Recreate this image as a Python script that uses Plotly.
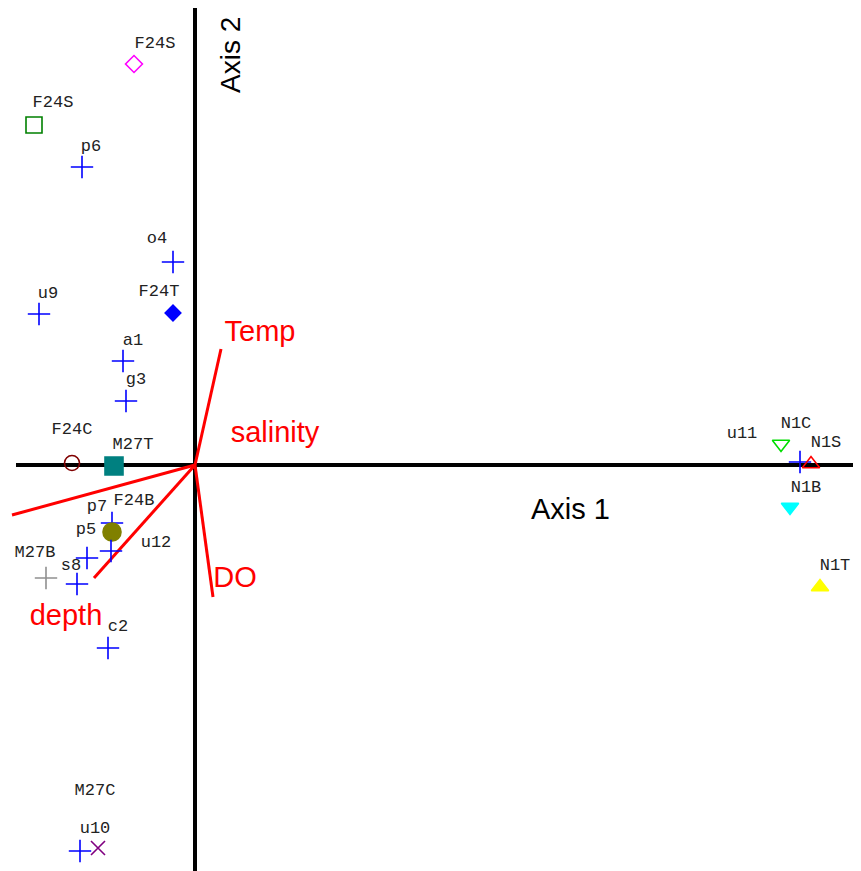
import plotly.graph_objects as go

# ---- data (ordination scores, axis units) ----
pt_names = ["F24S_a", "F24S_b", "p6", "o4", "u9", "F24T", "a1", "g3", "F24C", "M27T",
            "p7", "F24B", "p5", "u12", "M27B", "s8", "c2", "u10", "M27C",
            "u11", "N1C", "N1S", "N1B", "N1T"]
pt_x = [-0.61, -1.61, -1.13, -0.22, -1.56, -0.22, -0.72, -0.69, -1.23, -0.81,
        -0.83, -0.83, -1.08, -0.84, -1.49, -1.18, -0.87, -1.15, -0.97,
        6.05, 5.86, 6.16, 5.95, 6.25]
pt_y = [4.01, 3.40, 2.98, 2.03, 1.51, 1.52, 1.04, 0.64, 0.02, -0.01,
        -0.58, -0.67, -0.93, -0.86, -1.13, -1.19, -1.83, -3.86, -3.83,
        0.03, 0.21, 0.01, -0.42, -1.22]
pt_symbol = ["diamond-open", "square-open", "cross-thin-open", "cross-thin-open", "cross-thin-open",
             "diamond", "cross-thin-open", "cross-thin-open", "circle-open", "square",
             "cross-thin-open", "circle", "cross-thin-open", "cross-thin-open", "cross-thin-open",
             "cross-thin-open", "cross-thin-open", "cross-thin-open", "x-thin-open",
             "cross-thin-open", "triangle-down-open", "triangle-up-open", "triangle-down", "triangle-up"]
pt_color = ["#FF00FF", "#008000", "#0000FF", "#0000FF", "#0000FF",
            "#0000FF", "#0000FF", "#0000FF", "#800000", "#008080",
            "#0000FF", "#808000", "#0000FF", "#0000FF", "#909090",
            "#0000FF", "#0000FF", "#0000FF", "#800080",
            "#0000FF", "#00DD00", "#FF0000", "#00FFFF", "#FFFF00"]
pt_size = [13, 16, 16, 16, 16, 12, 16, 16, 15, 18,
           16, 18, 16, 16, 16, 16, 16, 16, 14,
           16, 15, 15, 15, 15]

lab_text = ["F24S", "F24S", "p6", "o4", "u9", "F24T", "a1", "g3", "F24C", "M27T",
            "p7", "F24B", "p5", "u12", "M27B", "s8", "c2", "u10", "M27C",
            "u11", "N1C", "N1S", "N1B", "N1T"]
lab_x = [-0.40, -1.42, -1.04, -0.38, -1.47, -0.36, -0.62, -0.59, -1.23, -0.62,
         -0.98, -0.61, -1.09, -0.39, -1.60, -1.24, -0.77, -1.00, -1.00,
         5.47, 6.01, 6.31, 6.11, 6.40]
lab_y = [4.21, 3.62, 3.18, 2.26, 1.71, 1.73, 1.24, 0.85, 0.35, 0.20,
         -0.42, -0.36, -0.65, -0.78, -0.88, -1.01, -1.62, -3.64, -3.26,
         0.31, 0.41, 0.22, -0.23, -1.01]

vec_names = ["Temp", "salinity", "DO", "depth"]
vec_x = [0.26, -1.83, 0.18, -1.01]
vec_y = [1.16, -0.50, -1.32, -1.13]
vec_lab_x = [0.65, 0.80, 0.40, -1.29]
vec_lab_y = [1.31, 0.30, -1.15, -1.53]

# page body has an 8px margin, so ranges are shifted to keep the origin in place
x_range = [-1.87, 6.74]
y_range = [-4.14, 4.57]

fig = go.Figure()

# axes through origin
fig.add_trace(go.Scatter(x=[-1.79, 6.74], y=[0, 0], mode="lines",
                         line=dict(color="black", width=4), hoverinfo="skip"))
fig.add_trace(go.Scatter(x=[0, 0], y=[y_range[0], y_range[1]], mode="lines",
                         line=dict(color="black", width=4), hoverinfo="skip"))

# environmental vectors
for vx, vy in zip(vec_x, vec_y):
    fig.add_trace(go.Scatter(x=[0, vx], y=[0, vy], mode="lines",
                             line=dict(color="#FF0000", width=3), hoverinfo="skip"))
fig.add_trace(go.Scatter(x=vec_lab_x, y=vec_lab_y, mode="text", text=vec_names,
                         textposition="middle center",
                         textfont=dict(family="Liberation Sans, Arial", size=29, color="#FF0000")))

# points
fig.add_trace(go.Scatter(x=pt_x, y=pt_y, mode="markers", text=pt_names,
                         marker=dict(symbol=pt_symbol, size=pt_size, color=pt_color, opacity=1,
                                     line=dict(color=pt_color, width=1.6))))

# point labels
fig.add_trace(go.Scatter(x=lab_x, y=lab_y, mode="text", text=lab_text,
                         textposition="middle center",
                         textfont=dict(family="Liberation Mono, Courier New, monospace",
                                       size=17, color="#222222")))

fig.add_annotation(x=3.75, y=-0.44, text="Axis 1", showarrow=False,
                   font=dict(family="Liberation Sans, Arial", size=29, color="black"))
fig.add_annotation(x=0.35, y=4.10, text="Axis 2", showarrow=False, textangle=-90,
                   font=dict(family="Liberation Sans, Arial", size=28, color="black"))

fig.update_layout(width=861, height=871, margin=dict(l=0, r=0, t=0, b=0),
                  paper_bgcolor="white", plot_bgcolor="white", showlegend=False,
                  xaxis=dict(range=x_range, visible=False, fixedrange=True),
                  yaxis=dict(range=y_range, visible=False, fixedrange=True))

fig.write_html("out.html")
